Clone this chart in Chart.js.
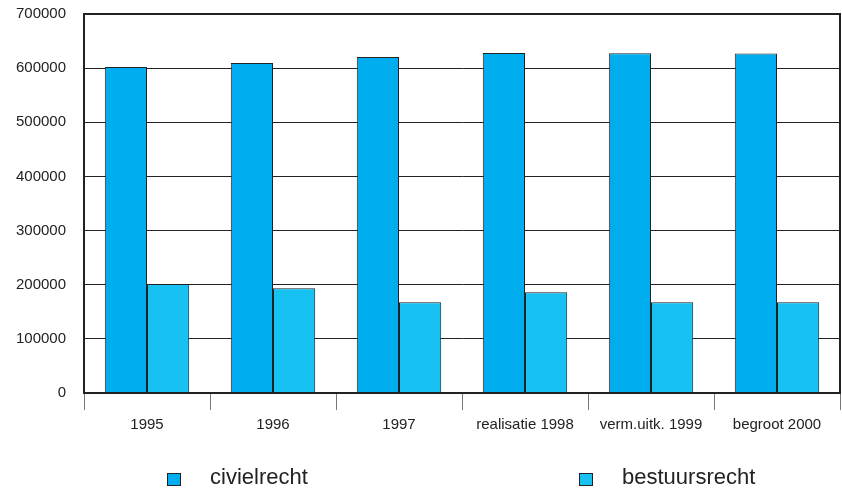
<!DOCTYPE html>
<html>
<head>
<meta charset="utf-8">
<script src="https://cdn.jsdelivr.net/npm/chart.js@4.4.1/dist/chart.umd.min.js"></script>
<style>
    html, body { margin: 0; padding: 0; background: #ffffff; }
    #wrap { width: 842px; height: 488px; position: relative; }
</style>
</head>
<body>
<div id="wrap"><canvas id="chart" width="842" height="488"></canvas></div>
<script>
// Data
const categories = ['1995', '1996', '1997', 'realisatie 1998', 'verm.uitk. 1999', 'begroot 2000'];
const civielrecht = [602000, 609500, 620500, 628000, 627500, 627000];
const bestuursrecht = [201500, 193500, 167500, 186000, 167500, 167500];
const yTicks = [0, 100000, 200000, 300000, 400000, 500000, 600000, 700000];

const FONT = '"Liberation Sans", Arial, sans-serif';
const TEXT = '#222222';

// frame around the plot + legend drawn at fixed spots like the original
const framePlugin = {
    id: 'frame',
    afterDraw(chart) {
        const { ctx, chartArea: a } = chart;
        ctx.save();
        ctx.strokeStyle = '#222';
        ctx.lineWidth = 2;
        ctx.strokeRect(a.left, a.top, a.right - a.left, a.bottom - a.top);

        // legend
        const spots = [167, 579];
        ctx.font = '22px ' + FONT;
        ctx.textBaseline = 'middle';
        chart.data.datasets.forEach((ds, i) => {
            const x = spots[i];
            ctx.fillStyle = ds.backgroundColor;
            ctx.fillRect(x, 473, 13, 12);
            ctx.strokeStyle = '#222';
            ctx.lineWidth = 1;
            ctx.strokeRect(x + 0.5, 473.5, 13, 12);
            ctx.fillStyle = TEXT;
            ctx.fillText(ds.label, x + 43, 478);
        });
        ctx.restore();
    }
};

new Chart(document.getElementById('chart'), {
    type: 'bar',
    data: {
        labels: categories,
        datasets: [
            {
                label: 'civielrecht',
                data: civielrecht,
                backgroundColor: '#00AEEF',
                borderColor: '#222222',
                borderWidth: 1,
                categoryPercentage: 0.67,
                barPercentage: 1.0
            },
            {
                label: 'bestuursrecht',
                data: bestuursrecht,
                backgroundColor: '#17C1F2',
                borderColor: '#222222',
                borderWidth: 1,
                categoryPercentage: 0.67,
                barPercentage: 1.0
            }
        ]
    },
    options: {
        responsive: false,
        animation: false,
        layout: { padding: { left: 0, top: 14, right: 2, bottom: 0 } },
        plugins: {
            legend: { display: false },
            tooltip: { enabled: false }
        },
        scales: {
            x: {
                grid: {
                    offset: true,
                    drawOnChartArea: false,
                    drawTicks: true,
                    tickLength: 17,
                    tickColor: '#777777',
                    tickWidth: 1
                },
                border: { display: true, color: '#222222', width: 2 },
                ticks: {
                    color: TEXT,
                    font: { family: FONT, size: 15 },
                    padding: 6,
                    maxRotation: 0,
                    autoSkip: false
                },
                afterFit: (scale) => {
                    scale.height = 95;
                    scale.paddingLeft = 0;
                    scale.paddingRight = 0;
                }
            },
            y: {
                min: 0,
                max: 700000,
                afterBuildTicks: (scale) => { scale.ticks = yTicks.map(v => ({ value: v })); },
                grid: {
                    color: '#222222',
                    lineWidth: 1,
                    drawTicks: false
                },
                border: { display: true, color: '#222222', width: 2 },
                ticks: {
                    color: TEXT,
                    font: { family: FONT, size: 15 },
                    padding: 18,
                    callback: (v) => String(v)
                },
                afterFit: (scale) => {
                    scale.width = 84;
                    scale.paddingTop = 0;
                    scale.paddingBottom = 0;
                }
            }
        }
    },
    plugins: [framePlugin]
});
</script>
</body>
</html>
